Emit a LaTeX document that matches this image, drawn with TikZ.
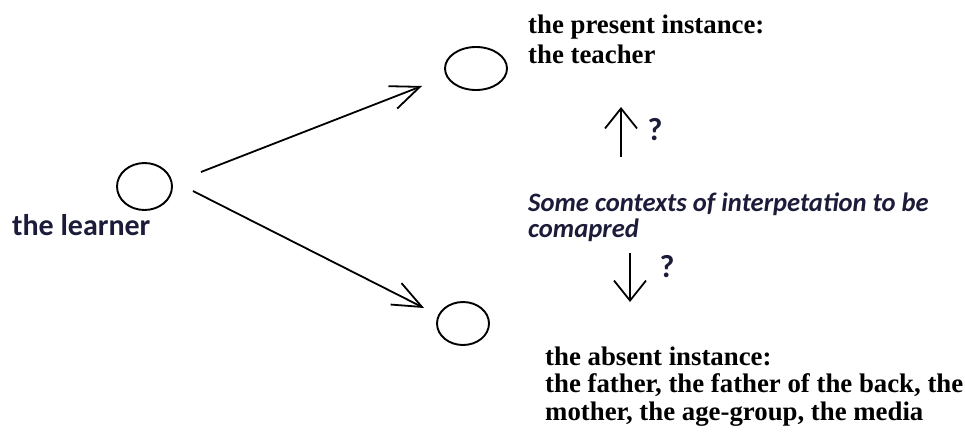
\documentclass[tikz,border=0pt]{standalone}
\usepackage{fontspec}
\setmainfont{Liberation Serif}
\newfontfamily\calibri{Carlito}
\usepackage{xcolor}
\usepackage{tikz}
\usetikzlibrary{shapes.geometric, arrows.meta, positioning}

\definecolor{inknavy}{RGB}{28,28,58}

\begin{document}
\begin{tikzpicture}[
  x=1pt, y=-1pt,
  circ/.style={ellipse, draw, line width=1.9pt, inner sep=0pt},
  instance/.style={inner sep=0pt, anchor=base west, align=left, font=\fontsize{26.8}{30}\selectfont\bfseries},
  sans/.style={inner sep=0pt, text=inknavy, font=\calibri\fontsize{27}{24}\selectfont\bfseries},
  query/.style={sans, font=\calibri\fontsize{32}{32}\selectfont\bfseries},
  arrow/.style={-{Straight Barb[length=29pt, width=24pt]}, line width=1.8pt},
  vert/.style={-{Straight Barb[length=20pt, width=32pt]}, line width=1.8pt}
]
\useasboundingbox (0,0) rectangle (965,432);

\node[circ, minimum width=55pt, minimum height=47pt] (learner) at (144.5,186.5) {};
\node[circ, minimum width=62pt, minimum height=43pt] (present) at (476,68.5) {};
\node[circ, minimum width=52pt, minimum height=43pt] (absent) at (463,323.5) {};

\node[sans, anchor=base west, font=\calibri\fontsize{30}{30}\selectfont\bfseries] (learnerlbl) at (12,235) {the learner};
% base anchor of a multi-line node sits on its last line
\node[instance] (presentlbl) at (528,63) {the present instance:\\the teacher};
\node[instance, font=\fontsize{26.8}{27.5}\selectfont\bfseries] (absentlbl) at (545,420)
  {the absent instance:\\the father, the father of the back, the\\mother, the age-group, the media};
\node[sans, anchor=base west, align=left, font=\calibri\fontsize{26.6}{25.5}\selectfont\bfseries\itshape] (contexts) at (528,237)
  {Some contexts of interpetation to be\\comapred};

\coordinate (upfoot) at (621,157);
\coordinate (uptip) at (621,107);
\coordinate (downtop) at (630,253);
\coordinate (downtip) at (630,302);
\node[query] (qup) at (655,130) {?};
\node[query] (qdown) at (667,267) {?};

\draw[arrow] ([shift={(28pt,14.5pt)}]learner.east) -- ([shift={(-22pt,-17.5pt)}]present.west);
\draw[arrow] ([shift={(20pt,-4.5pt)}]learner.east) -- ([shift={(-12pt,15.5pt)}]absent.west);
\draw[vert] (upfoot) -- (uptip);
\draw[vert] (downtop) -- (downtip);

\end{tikzpicture}
\end{document}
